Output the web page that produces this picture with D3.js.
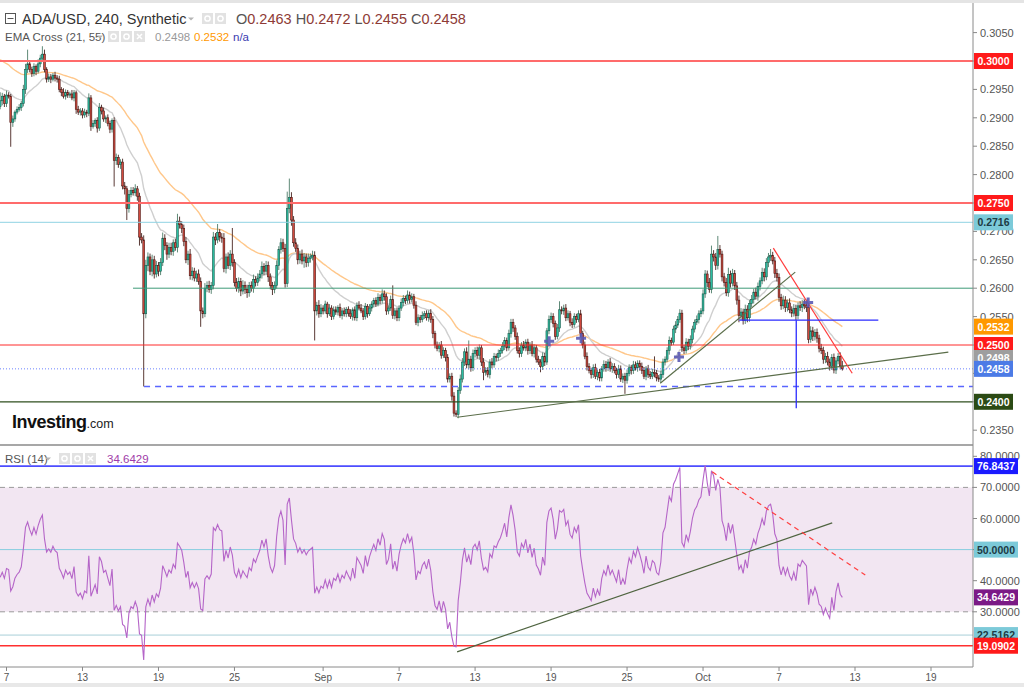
<!DOCTYPE html>
<html><head><meta charset="utf-8">
<script src="https://cdn.jsdelivr.net/npm/d3@7"></script>
<style>
body{margin:0;background:#fff;}
svg{display:block;font-family:"Liberation Sans",Arial,sans-serif;}
</style>
</head><body>
<svg id="c" width="1024" height="687"></svg>
<script>
// ---------------- DATA ----------------
const symbolTitle = "ADA/USD, 240, Synthetic";
const emaTitle = "EMA Cross (21, 55)";
const rsiTitle = "RSI (14)";
const startTime = Date.UTC(2018, 7, 6, 12);   // first 4h candle
const firstOpen = 2920;                        // price in 1e-4 units
// closes (1e-4 units), 6 candles per day
const closes = [
2930,2938,2925,
2940,2938,2892,2898,2910,2915,
2918,2925,2950,2985,2995,2985,
2978,2990,2982,2995,3005,3012,
2985,2968,2972,2968,2975,2970,
2968,2950,2945,2938,2945,2940,
2942,2935,2944,2915,2910,2912,
2905,2910,2908,2935,2885,2890,
2895,2882,2918,2912,2898,2900,
2890,2880,2895,2825,2830,2818,
2822,2780,2775,2740,2765,2772,
2768,2775,2762,2690,2685,2555,
2640,2655,2630,2650,2625,2640,
2630,2645,2688,2675,2660,2672,
2665,2680,2672,2718,2712,2705,
2682,2650,2660,2622,2630,2618,
2625,2612,2560,2555,2600,2605,
2598,2605,2690,2685,2698,2690,
2688,2635,2655,2640,2660,2645,
2610,2600,2612,2595,2605,2598,
2592,2605,2600,2615,2610,2618,
2625,2638,2630,2640,2620,2605,
2598,2605,2640,2668,2680,2670,
2608,2740,2760,2720,2680,2670,
2650,2660,2648,2655,2645,2652,
2655,2658,2560,2570,2555,2565,
2560,2572,2555,2565,2550,2562,
2558,2566,2552,2560,2555,2563,
2556,2550,2562,2548,2570,2565,
2560,2550,2568,2555,2565,2572,
2578,2572,2584,2578,2590,2585,
2560,2565,2580,2552,2560,2548,
2565,2575,2582,2578,2588,2580,
2585,2570,2540,2548,2545,2552,
2555,2548,2556,2545,2520,2500,
2494,2500,2482,2490,2478,2440,
2445,2410,2380,2378,2420,2440,
2470,2488,2465,2475,2460,2485,
2490,2482,2495,2470,2452,2455,
2448,2470,2465,2480,2478,2485,
2490,2498,2508,2495,2520,2540,
2530,2515,2490,2485,2500,2495,
2505,2490,2500,2485,2495,2475,
2470,2462,2480,2470,2525,2545,
2550,2538,2515,2530,2562,2560,
2565,2548,2555,2540,2536,2550,
2545,2555,2520,2500,2480,2462,
2455,2448,2460,2445,2452,2442,
2458,2466,2460,2470,2458,2462,
2455,2448,2458,2440,2445,2438,
2450,2460,2455,2465,2460,2468,
2462,2455,2445,2458,2448,2445,
2452,2450,2442,2440,2448,2470,
2475,2490,2508,2505,2528,2535,
2545,2556,2495,2490,2505,2498,
2510,2528,2540,2545,2555,2560,
2590,2625,2610,2598,2660,2655,
2640,2668,2660,2620,2610,2592,
2624,2609,2626,2604,2579,2552,
2558,2543,2563,2548,2573,2580,
2593,2586,2603,2613,2628,2620,
2645,2655,2658,2648,2626,2619,
2584,2569,2579,2566,2574,2562,
2556,2564,2552,2569,2566,2572,
2569,2566,2510,2525,2515,2522,
2512,2494,2490,2475,2480,2470,
2462,2478,2456,2472,2480,2463,
2458];
// upper wick above body (1e-4 units)
const upWicks = [
15,6,4,
8,5,4,6,3,5,
6,5,8,10,25,6,
5,6,4,8,6,14,
8,4,6,5,4,6,
5,6,4,7,5,4,
4,7,5,4,6,5,
5,6,4,8,5,6,
4,6,8,5,6,4,
6,5,4,6,7,5,
5,6,7,5,8,6,
6,8,5,6,7,8,
10,8,6,9,7,8,
6,8,10,7,6,8,
8,6,7,13,8,6,
7,8,6,9,7,6,
6,8,7,6,9,7,
8,6,9,7,15,6,
7,9,6,8,7,46,
6,8,7,6,9,7,
8,6,7,9,6,8,
7,9,6,8,7,6,
6,7,9,6,8,7,
8,30,33,9,7,8,
7,6,8,7,6,9,
6,8,7,6,9,7,
5,6,4,7,5,6,
6,4,7,5,6,4,
5,7,4,6,5,7,
7,5,6,4,7,5,
5,6,7,5,8,6,
6,5,7,25,5,6,
5,7,6,5,8,6,
6,5,7,6,5,7,
5,6,5,7,6,5,
6,5,7,6,5,6,
5,6,7,5,6,8,
7,6,8,33,6,7,
6,7,6,5,7,6,
6,5,7,6,5,7,
5,7,6,5,7,6,
6,5,7,6,5,7,
5,6,5,7,6,5,
6,5,7,6,5,7,
7,6,5,7,15,6,
6,7,6,5,7,6,
5,6,7,5,6,7,
6,5,6,7,5,6,
5,7,6,5,7,6,
6,5,7,6,5,6,
7,6,5,7,6,5,
5,7,6,5,7,6,
6,28,6,5,7,6,
5,6,7,5,6,7,
6,7,6,5,7,6,
7,6,5,7,6,5,
8,7,6,8,15,7,
7,24,8,6,7,8,
12,7,8,6,7,8,
7,6,8,7,6,8,
6,8,7,6,8,7,
8,7,11,6,7,8,
7,6,8,7,6,8,
6,8,7,6,8,7,
8,7,6,8,7,6,
7,6,8,7,6,8,
6,6,7,6,6,7,
9];
// lower wick below body (1e-4 units)
const dnWicks = [
5,8,6,
6,4,43,8,5,4,
4,6,5,8,6,5,
6,5,7,4,6,5,
5,6,5,7,4,6,
6,5,7,4,6,5,
5,4,6,8,5,6,
6,5,7,5,8,4,
6,8,5,6,5,7,
5,7,6,46,8,6,
8,6,10,20,7,5,
5,6,8,15,6,128,
8,10,7,9,8,6,
9,7,6,8,10,7,
7,8,6,9,7,8,
8,6,9,7,8,6,
7,6,28,8,6,7,
6,8,7,9,6,8,
8,7,9,6,8,7,
7,6,8,9,6,8,
9,7,6,8,7,6,
6,8,7,6,9,7,
10,7,6,8,7,6,
7,6,8,10,7,6,
8,7,6,12,8,7,
7,6,52,8,7,6,
6,5,7,4,6,5,
5,6,4,7,5,6,
6,4,7,5,6,4,
4,6,5,7,4,6,
6,5,4,6,5,7,
7,6,5,6,7,6,
6,5,7,6,5,7,
5,6,5,7,6,5,
6,5,7,6,8,6,
5,7,6,5,7,6,
6,8,6,5,7,6,
6,7,6,8,7,6,
7,6,8,7,14,6,
5,7,6,5,7,6,
6,5,7,6,5,7,
7,6,5,7,6,5,
6,7,6,5,7,6,
5,10,6,7,5,6,
6,7,6,5,7,6,
7,6,5,7,6,5,
6,5,7,6,5,7,
5,7,6,5,7,6,
6,5,7,6,5,7,
5,7,6,5,7,24,
6,5,7,6,5,7,
7,6,5,7,6,5,
5,7,6,5,7,6,
6,5,7,6,5,7,
5,6,7,6,5,7,
6,7,6,5,7,6,
6,7,8,6,7,8,
8,7,6,8,7,6,
7,8,6,7,8,12,
8,7,6,8,7,6,
7,6,8,7,6,8,
6,8,7,6,8,7,
8,7,6,8,7,6,
7,6,8,7,6,8,
6,8,7,6,8,7,
8,7,6,8,7,6,
7,6,6,7,6,6,
3];
const emaSeed21 = 0.2955, emaSeed55 = 0.3005;
const rsiSeedGain = 0.0009, rsiSeedLoss = 0.0014;

const priceTicks = [0.2350,0.2400,0.2450,0.2500,0.2550,0.2600,0.2650,0.2700,0.2750,0.2800,0.2850,0.2900,0.2950,0.3000,0.3050];
const rsiTicks = [30,40,50,60,70,80];
const dateTicks = ["2018-08-07","2018-08-13","2018-08-19","2018-08-25","2018-09-01","2018-09-07","2018-09-13","2018-09-19","2018-09-25","2018-10-01","2018-10-07","2018-10-13","2018-10-19"];
const dateTickLabels = ["7","13","19","25","Sep","7","13","19","25","Oct","7","13","19"];

// horizontal levels drawn on the price chart
const levelPrices = [0.3000, 0.2750, 0.2716, 0.2600, 0.2500, 0.2427, 0.2400];
const levelStartDays = [null, null, null, 9.99, null, 10.86, null];   // days after Aug 7 where the level starts
// RSI levels
const rsiLevels = [76.8437, 50, 22.5162, 19.0902];
// trendlines: [day0, value0, day1, value1] (days after Aug 7)
const priceTrendLong = [35.58, 0.23728, 74.37, 0.24873];
const priceTrendShort = [51.62, 0.24327, 62.28, 0.26283];
const priceTrendRed = [60.55, 0.26705, 66.78, 0.24503];
const blueHorizontal = [57.86, 0.25437, 68.84, 0.25437];
const blueVertical = [62.36, 0.25437, 62.36, 0.23886];
const plusMarks = [[42.85, 0.25067],[45.37, 0.2512],[53.1, 0.2479],[63.3, 0.2575]];
const rsiTrendUp = [35.58, 17.1, 65.2, 58.6];
const rsiTrendDown = [55.73, 75.0, 67.81, 41.8];

// ---------------- BUILD ----------------
const K = 1e-4;
let prev = firstOpen;
const candles = closes.map((c, i) => {
  const o = prev; prev = c;
  return { t: new Date(startTime + i * 4 * 3600e3), o: o * K, c: c * K,
           h: (Math.max(o, c) + upWicks[i]) * K, l: (Math.min(o, c) - dnWicks[i]) * K };
});
function ema(vals, n, seed) { const a = 2 / (n + 1); let e = seed; return vals.map(v => (e = e + a * (v - e))); }
const cl = candles.map(d => d.c);
const ema21 = ema(cl, 21, emaSeed21), ema55 = ema(cl, 55, emaSeed55);
let ag = rsiSeedGain, al = rsiSeedLoss;
const rsi = candles.map(d => { const ch = d.c - d.o; ag = (ag * 13 + Math.max(ch, 0)) / 14; al = (al * 13 + Math.max(-ch, 0)) / 14; return 100 - 100 / (1 + ag / al); });
const last = candles[candles.length - 1];

const day0 = Date.UTC(2018, 7, 7);
const dayDate = d => new Date(day0 + d * 86400e3);

// ---------------- SCALES ----------------
const W = 1024, H = 687, axisX = 973;
const x = d3.scaleUtc().domain([new Date(Date.UTC(2018,7,7)), new Date(Date.UTC(2018,9,19))]).range([6.5, 931]);
const y = d3.scaleLinear().domain([0.2350, 0.3050]).range([430.2, 32.6]);
const yr = d3.scaleLinear().domain([30, 80]).range([611.8, 456.3]);

const svg = d3.select("#c");
const defs = svg.append("defs");
defs.append("clipPath").attr("id","cm").append("rect").attr("x",0).attr("y",4).attr("width",axisX).attr("height",440);
defs.append("clipPath").attr("id","cr").append("rect").attr("x",0).attr("y",447).attr("width",axisX).attr("height",220);

svg.append("rect").attr("width",W).attr("height",H).attr("fill","#fff");
svg.append("rect").attr("x",0).attr("y",0).attr("width",W).attr("height",3).attr("fill","#e4e4e4");
svg.append("rect").attr("x",0).attr("y",683).attr("width",W).attr("height",4).attr("fill","#e8e8e8");

// ---------------- MAIN PANEL ----------------
const gm = svg.append("g").attr("clip-path","url(#cm)");
const lineGen = (yy) => d3.line().x((d,i)=>x(candles[i].t)).y(d=>yy(d));
gm.append("path").datum(ema55).attr("d", lineGen(y)).attr("fill","none").attr("stroke","#ffc78a").attr("stroke-width",1.4);
gm.append("path").datum(ema21).attr("d", lineGen(y)).attr("fill","none").attr("stroke","#cfcfcf").attr("stroke-width",1.4);

const levelStyle = [
  {c:"#ff6b6b", w:2},{c:"#ff6b6b", w:2},{c:"#8fd3e3", w:1},{c:"#3d9a78", w:1},
  {c:"#ff2a2a", w:1},{c:"#5a66ff", w:1.5, dash:"6,5"},{c:"#2f4f1e", w:1.2}];

// candles
const cg = gm.append("g");
cg.selectAll("line").data(candles).join("line")
  .attr("x1", d=>x(d.t)).attr("x2", d=>x(d.t)).attr("y1", d=>y(d.h)).attr("y2", d=>y(d.l))
  .attr("stroke", d=> d.c>=d.o ? "#5f8a78" : "#5a3a36").attr("stroke-width",1);
cg.selectAll("rect").data(candles).join("rect")
  .attr("x", d=>x(d.t)-0.9).attr("width",1.8)
  .attr("y", d=>y(Math.max(d.o,d.c))).attr("height", d=>Math.max(1, Math.abs(y(d.o)-y(d.c))))
  .attr("fill", d=> d.c>=d.o ? "#2bbfa2" : "#d24a3e")
  .attr("stroke", d=> d.c>=d.o ? "#1d5c4e" : "#4e1a16").attr("stroke-width",0.6);

// levels
levelPrices.forEach((p,i)=>{
  const s = levelStyle[i];
  const x0 = levelStartDays[i]==null ? 0 : x(dayDate(levelStartDays[i]));
  gm.append("line").attr("x1",x0).attr("x2",axisX).attr("y1",y(p)).attr("y2",y(p))
    .attr("stroke",s.c).attr("stroke-width",s.w).attr("stroke-dasharray",s.dash||null);
});
// current price dotted line
gm.append("line").attr("x1",0).attr("x2",axisX).attr("y1",y(last.c)).attr("y2",y(last.c))
  .attr("stroke","#6b82ff").attr("stroke-width",1).attr("stroke-dasharray","1,2");

function seg(g, s, sc, col, w, dash){
  g.append("line").attr("x1",x(dayDate(s[0]))).attr("y1",sc(s[1])).attr("x2",x(dayDate(s[2]))).attr("y2",sc(s[3]))
   .attr("stroke",col).attr("stroke-width",w).attr("stroke-dasharray",dash||null);
}
seg(gm, priceTrendLong, y, "#5b6e4a", 1.2);
seg(gm, priceTrendShort, y, "#5b6e4a", 1.2);
seg(gm, priceTrendRed, y, "#ff3b3b", 1.2);
seg(gm, blueHorizontal, y, "#2b2bff", 1.3);
seg(gm, blueVertical, y, "#2b2bff", 1.3);
plusMarks.forEach(m=>{
  const px = x(dayDate(m[0])), py = y(m[1]);
  gm.append("path").attr("d",`M${px-5},${py}H${px+5}M${px},${py-5}V${py+5}`)
    .attr("stroke","#5a5ab4").attr("stroke-width",3).attr("opacity",0.9);
});

// Investing.com logo
const logo = svg.append("text").attr("x",12).attr("y",428);
logo.append("tspan").text("Investing").attr("font-size",18).attr("font-weight","bold").attr("fill","#111").attr("letter-spacing","-0.5");
logo.append("tspan").text(".com").attr("font-size",12.5).attr("fill","#222");

// ---------------- RSI PANEL ----------------
const gr = svg.append("g").attr("clip-path","url(#cr)");
gr.append("rect").attr("x",0).attr("width",axisX).attr("y",yr(70)).attr("height",yr(30)-yr(70)).attr("fill","#f2e6f2");
[70,30].forEach(v=> gr.append("line").attr("x1",0).attr("x2",axisX).attr("y1",yr(v)).attr("y2",yr(v))
   .attr("stroke","#9a9a9a").attr("stroke-dasharray","5,4").attr("stroke-width",1));
const rsiStyle = [{c:"#4d4dff",w:1.8},{c:"#86cddf",w:1},{c:"#a9cfd8",w:1},{c:"#ff3030",w:1.6}];
rsiLevels.forEach((v,i)=> gr.append("line").attr("x1",0).attr("x2",axisX).attr("y1",yr(v)).attr("y2",yr(v))
   .attr("stroke",rsiStyle[i].c).attr("stroke-width",rsiStyle[i].w));
gr.append("path").datum(rsi).attr("d", lineGen(yr)).attr("fill","none").attr("stroke","#b565c8").attr("stroke-width",1.1);
seg(gr, rsiTrendUp, yr, "#4f6440", 1.2);
seg(gr, rsiTrendDown, yr, "#ff4040", 1.2, "5,4");

// separator & axes
svg.append("line").attr("x1",0).attr("x2",axisX).attr("y1",445).attr("y2",445).attr("stroke","#8a8a8a").attr("stroke-width",1.5);
svg.append("line").attr("x1",axisX).attr("x2",axisX).attr("y1",3).attr("y2",667).attr("stroke","#8a8a8a").attr("stroke-width",1);
svg.append("line").attr("x1",0).attr("x2",axisX).attr("y1",667).attr("y2",667).attr("stroke","#8a8a8a").attr("stroke-width",1);

const fmt4 = d3.format(".4f");
const e21 = ema21[ema21.length-1], e55 = ema55[ema55.length-1], rLast = rsi[rsi.length-1];
const priceBadges = [
  [y(levelPrices[0]), fmt4(levelPrices[0]), "#ff1a1a", "#fff"],
  [y(levelPrices[1]), fmt4(levelPrices[1]), "#ff1a1a", "#fff"],
  [y(levelPrices[2]), fmt4(levelPrices[2]), "#7ccad9", "#1d3a44"],
  [y(e55), fmt4(e55), "#ff9800", "#fff"],
  [y(levelPrices[4]), fmt4(levelPrices[4]), "#ff1a1a", "#fff"],
  [y(levelPrices[4])+13, fmt4(e21), "#9e9e9e", "#fff"],
  [y(last.c), fmt4(last.c), "#4c7be6", "#fff"],
  [y(levelPrices[6]), fmt4(levelPrices[6]), "#2b4a14", "#fff"]];
const rsiBadges = [
  [yr(rsiLevels[0]), fmt4(rsiLevels[0]), "#1a1aff", "#fff"],
  [yr(rsiLevels[1]), fmt4(rsiLevels[1]), "#7ccad9", "#1d3a44"],
  [yr(rLast), fmt4(rLast), "#7b1a86", "#fff"],
  [yr(rsiLevels[2]), fmt4(rsiLevels[2]), "#7ccad9", "#1d3a44"],
  [yr(rsiLevels[3]), fmt4(rsiLevels[3]), "#ff1a1a", "#fff"]];
const hidden = (yy, list) => list.some(b => Math.abs(b[0]-yy) < 6);

const ax = svg.append("g").attr("font-size",11).attr("fill","#555");
priceTicks.forEach(p=>{
  ax.append("line").attr("x1",axisX).attr("x2",axisX+4).attr("y1",y(p)).attr("y2",y(p)).attr("stroke","#888");
  if(!hidden(y(p), priceBadges)) ax.append("text").attr("x",axisX+7).attr("y",y(p)+4).text(fmt4(p));
});
rsiTicks.forEach(v=>{
  ax.append("line").attr("x1",axisX).attr("x2",axisX+4).attr("y1",yr(v)).attr("y2",yr(v)).attr("stroke","#888");
  if(!hidden(yr(v), rsiBadges)) ax.append("text").attr("x",axisX+7).attr("y",yr(v)+4).text(fmt4(v));
});
dateTicks.forEach((d,i)=>{
  const px = x(new Date(d+"T00:00:00Z"));
  ax.append("line").attr("x1",px).attr("x2",px).attr("y1",667).attr("y2",671).attr("stroke","#888");
  ax.append("text").attr("x",px).attr("y",681).attr("text-anchor","middle").attr("font-size",10).text(dateTickLabels[i]);
});

function badge(b, w){
  const g = svg.append("g");
  g.append("rect").attr("x",axisX+1).attr("y",b[0]-8).attr("width",w).attr("height",16).attr("fill",b[2]);
  g.append("text").attr("x",axisX+1+w/2).attr("y",b[0]+4).attr("text-anchor","middle").attr("font-size",10.5).attr("font-weight","bold").attr("fill",b[3]).text(b[1]);
}
priceBadges.forEach(b=>badge(b,39));
rsiBadges.forEach(b=>badge(b,44));

// ---------------- HEADERS ----------------
function icons(x0, yy, n){
  for(let i=0;i<n;i++){
    const bx = x0 + i*13;
    svg.append("rect").attr("x",bx).attr("y",yy).attr("width",11).attr("height",11).attr("fill","#e2e2e2");
    if(i<2) svg.append("circle").attr("cx",bx+5.5).attr("cy",yy+5.5).attr("r",2.6).attr("fill","none").attr("stroke","#fff").attr("stroke-width",1.5);
    else svg.append("path").attr("d",`M${bx+3},${yy+3}L${bx+8},${yy+8}M${bx+8},${yy+3}L${bx+3},${yy+8}`).attr("stroke","#fff").attr("stroke-width",1.5);
  }
}
function caret(cx, cy){ svg.append("path").attr("d",`M${cx-3},${cy-1.5}L${cx+3},${cy-1.5}L${cx},${cy+1.5}Z`).attr("fill","#b5b5b5"); }

svg.append("rect").attr("x",5.5).attr("y",13.5).attr("width",10).attr("height",10).attr("fill","none").attr("stroke","#555");
svg.append("line").attr("x1",7.5).attr("x2",13.5).attr("y1",18.5).attr("y2",18.5).attr("stroke","#555");
svg.append("text").attr("x",22).attr("y",24).attr("font-size",14.5).attr("fill","#333").text(symbolTitle);
caret(191, 19);
icons(202, 13, 2);
const ohlc = svg.append("text").attr("x",236).attr("y",24).attr("font-size",14.5);
[["O",last.o],["H",last.h],["L",last.l],["C",last.c]].forEach((p,i)=>{
  ohlc.append("tspan").text((i?" ":"")+p[0]).attr("fill","#555");
  ohlc.append("tspan").text(fmt4(p[1])).attr("fill","#8e3b36");
});
svg.append("text").attr("x",5).attr("y",41).attr("font-size",11.5).attr("fill","#555").text(emaTitle);
caret(100, 37);
icons(108, 31, 3);
svg.append("text").attr("x",155).attr("y",41).attr("font-size",11.5).attr("fill","#999").text(fmt4(e21));
svg.append("text").attr("x",194).attr("y",41).attr("font-size",11.5).attr("fill","#ff9800").text(fmt4(e55));
svg.append("text").attr("x",233).attr("y",41).attr("font-size",11.5).attr("fill","#3a3ab0").text("n/a");

svg.append("text").attr("x",5).attr("y",463).attr("font-size",11.5).attr("fill","#555").text(rsiTitle);
caret(48, 459);
icons(59, 453, 3);
svg.append("text").attr("x",107).attr("y",463).attr("font-size",11.5).attr("fill","#a03aa8").text(fmt4(rLast));
</script>
</body></html>
